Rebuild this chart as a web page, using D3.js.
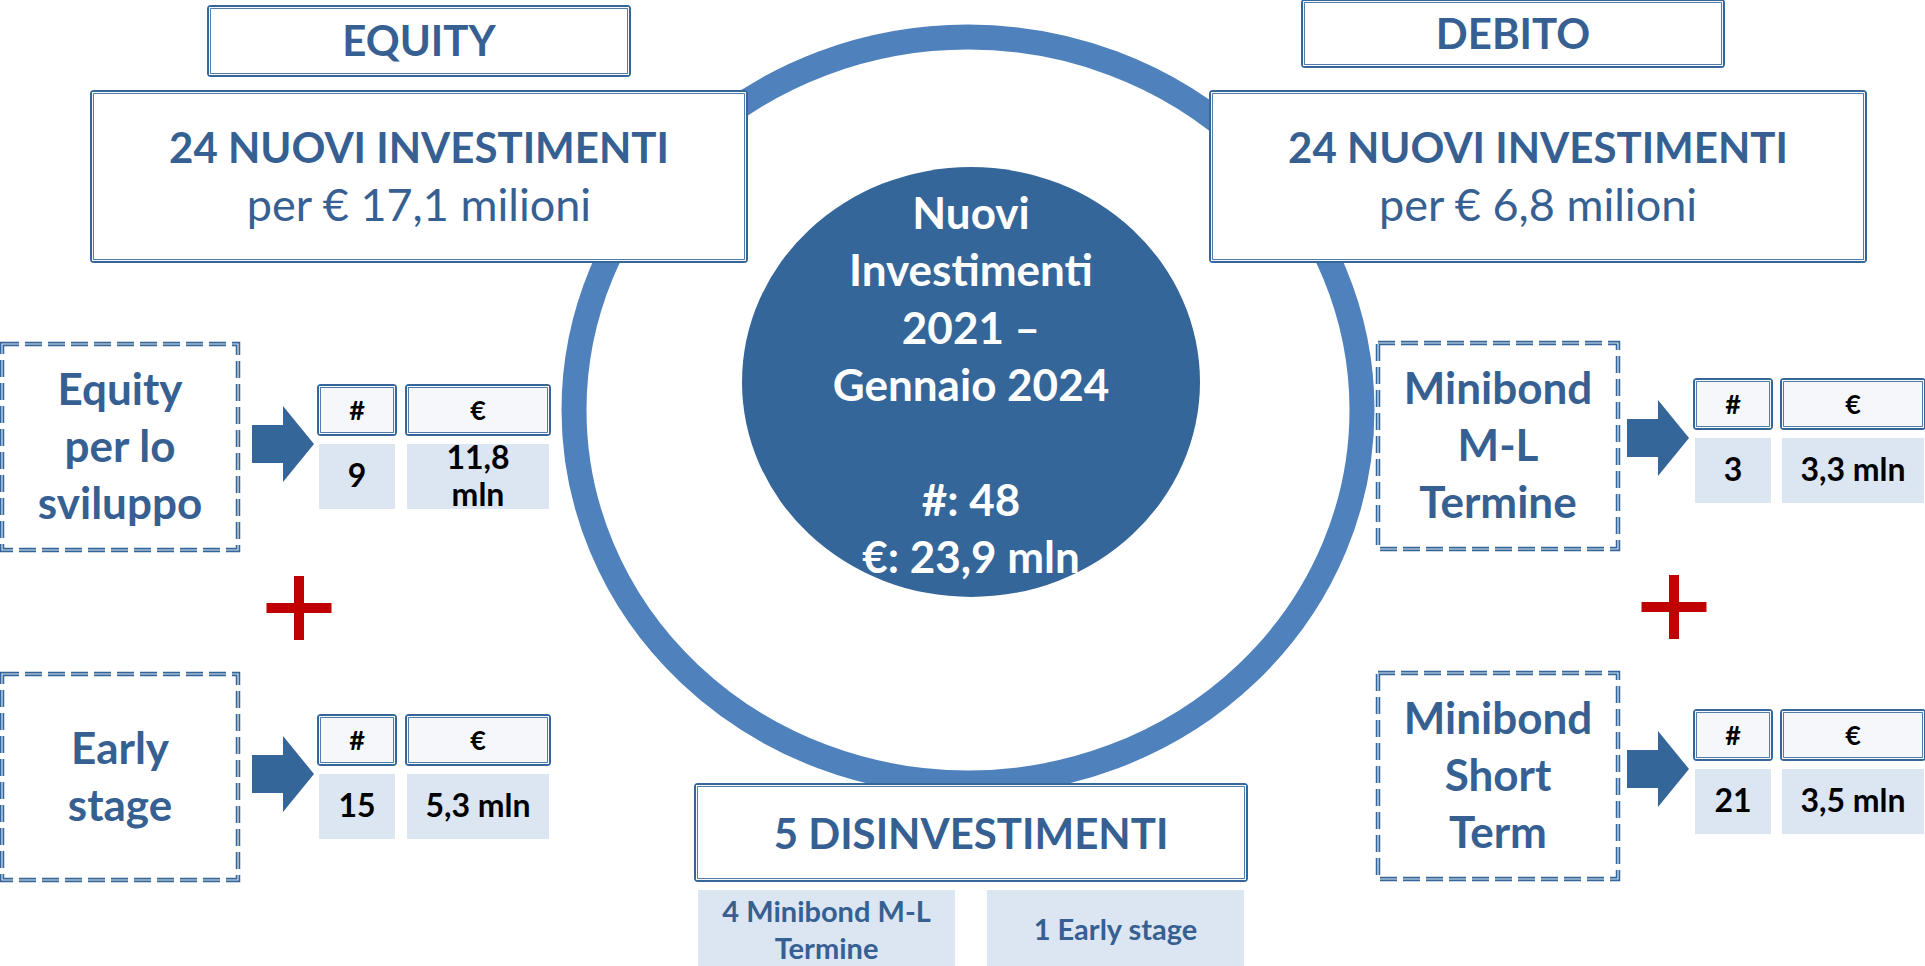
<!DOCTYPE html>
<html>
<head>
<meta charset="utf-8">
<script src="https://cdn.jsdelivr.net/npm/d3@7"></script>
<style>
  html, body { margin: 0; padding: 0; background: #fff; }
  svg { display: block; font-family: Lato, 'Open Sans', sans-serif; }
</style>
</head>
<body>
<script>
(function () {
  'use strict'
  const width = 1925
  const height = 966

  // data
  const sideTitles = ['EQUITY', 'DEBITO']
  const sideCounts = [24, 24]
  const sideAmounts = ['17,1', '6,8']
  const categoryLines = [
    ['Equity', 'per lo', 'sviluppo'],
    ['Early', 'stage'],
    ['Minibond', 'M-L', 'Termine'],
    ['Minibond', 'Short', 'Term']
  ]
  const categorySide = [0, 0, 1, 1]
  const categoryRow = [0, 1, 0, 1]
  const categoryCounts = ['9', '15', '3', '21']
  const categoryAmounts = [['11,8', 'mln'], ['5,3 mln'], ['3,3 mln'], ['3,5 mln']]
  const tableHeaders = ['#', '€']
  const centerLines = ['Nuovi', 'Investimenti', '2021 –', 'Gennaio 2024', '', '#: 48', '€: 23,9 mln']
  const disinvestTotal = 5
  const disinvestItems = [['4 Minibond M-L', 'Termine'], ['1 Early stage']]

  const dark = '#35669a'
  const textBlue = '#376092'
  const ringBlue = '#4f81bd'
  const cellFill = '#dce6f2'
  const headFill = '#f5f7fb'
  const red = '#c00000'

  // layout
  const side = {
    titleX: [209, 1303], titleY: [7, 1], titleW: 420, titleH: [68, 65],
    bigX: [92, 1211], bigY: 92, bigW: 654, bigH: 169,
    catX: [2, 1378], catW: [236, 240],
    arrowX: [252, 1627],
    colX: [[319, 407], [1695, 1782]], colW: [76, 142],
    tableTop: [[386, 716], [380, 711]],
    plus: [[299, 608], [1674, 607]]
  }
  const rowY = [[344, 674], [343, 673]]
  const rowH = 206

  const svg = d3.select('body').append('svg')
    .attr('width', width)
    .attr('height', height)

  // ring
  const ring = {cx: 968, cy: 410, rx: 394, ry: 373}
  svg.append('ellipse')
    .attr('cx', ring.cx).attr('cy', ring.cy)
    .attr('rx', ring.rx).attr('ry', ring.ry)
    .attr('fill', 'none')
    .attr('stroke', ringBlue)
    .attr('stroke-width', 25)

  function doubleBox (g, x, y, w, h, fill) {
    g.append('rect')
      .attr('x', x).attr('y', y).attr('width', w).attr('height', h)
      .attr('rx', 2)
      .attr('fill', fill)
      .attr('stroke', dark)
      .attr('stroke-width', 4)
    g.append('rect')
      .attr('x', x + 0.6).attr('y', y + 0.6).attr('width', w - 1.2).attr('height', h - 1.2)
      .attr('fill', 'none')
      .attr('stroke', '#fff')
      .attr('stroke-width', 1.1)
  }

  function dashedBox (g, x, y, w, h) {
    g.append('rect')
      .attr('x', x).attr('y', y).attr('width', w).attr('height', h)
      .attr('fill', '#fff')
      .attr('stroke', dark)
      .attr('stroke-width', 4.5)
      .attr('stroke-dasharray', '17,6')
    g.append('rect')
      .attr('x', x).attr('y', y).attr('width', w).attr('height', h)
      .attr('fill', 'none')
      .attr('stroke', '#dbe5f1')
      .attr('stroke-width', 1.2)
      .attr('stroke-dasharray', '17,6')
  }

  // title and summary boxes
  sideTitles.forEach(function (t, i) {
    const g = svg.append('g').attr('class', 'side')
    doubleBox(g, side.titleX[i], side.titleY[i], side.titleW, side.titleH[i], '#fff')
    g.append('text')
      .attr('x', side.titleX[i] + side.titleW / 2)
      .attr('y', side.titleY[i] + side.titleH[i] / 2 + 15)
      .attr('text-anchor', 'middle')
      .attr('font-size', 42)
      .attr('font-weight', 700)
      .attr('fill', textBlue)
      .text(t)

    doubleBox(g, side.bigX[i], side.bigY, side.bigW, side.bigH, '#fff')
    g.append('text')
      .attr('x', side.bigX[i] + side.bigW / 2)
      .attr('y', 163)
      .attr('text-anchor', 'middle')
      .attr('font-size', 42)
      .attr('font-weight', 700)
      .attr('fill', textBlue)
      .text(sideCounts[i] + ' NUOVI INVESTIMENTI')
    g.append('text')
      .attr('x', side.bigX[i] + side.bigW / 2)
      .attr('y', 221)
      .attr('text-anchor', 'middle')
      .attr('font-size', 45)
      .attr('font-weight', 400)
      .attr('fill', textBlue)
      .text('per € ' + sideAmounts[i] + ' milioni')
  })

  // categories
  categoryLines.forEach(function (lines, k) {
    const s = categorySide[k]
    const r = categoryRow[k]
    const g = svg.append('g').attr('class', 'category')
    const bx = side.catX[s]
    const by = rowY[s][r]
    dashedBox(g, bx, by, side.catW[s], rowH)
    const cy = by + rowH / 2
    g.append('text')
      .attr('text-anchor', 'middle')
      .attr('font-size', 44)
      .attr('font-weight', 700)
      .attr('fill', textBlue)
      .selectAll('tspan')
      .data(lines)
      .enter().append('tspan')
      .attr('x', bx + side.catW[s] / 2)
      .attr('y', (d, i) => cy + (i - (lines.length - 1) / 2) * 57 + 15)
      .text(d => d)

    // arrow
    const top = side.tableTop[s][r]
    const tipY = top + 58
    const ax = side.arrowX[s]
    g.append('path')
      .attr('d', `M${ax},${tipY - 19} H${ax + 31} V${tipY - 38} L${ax + 62},${tipY} L${ax + 31},${tipY + 38} V${tipY + 19} H${ax} Z`)
      .attr('fill', dark)

    // table
    tableHeaders.forEach(function (h, c) {
      const cx = side.colX[s][c]
      const cw = side.colW[c]
      doubleBox(g, cx, top, cw, 48, headFill)
      g.append('text')
        .attr('x', cx + cw / 2)
        .attr('y', top + 34)
        .attr('text-anchor', 'middle')
        .attr('font-size', 27)
        .attr('font-weight', 700)
        .attr('fill', '#000')
        .text(h)
      g.append('rect')
        .attr('x', cx).attr('y', top + 58)
        .attr('width', cw).attr('height', 65)
        .attr('fill', cellFill)
      const vals = c === 0 ? [categoryCounts[k]] : categoryAmounts[k]
      g.append('text')
        .attr('text-anchor', 'middle')
        .attr('font-size', 32)
        .attr('font-weight', 700)
        .attr('fill', '#000')
        .selectAll('tspan')
        .data(vals)
        .enter().append('tspan')
        .attr('x', cx + cw / 2)
        .attr('y', (d, i) => top + 58 + 43 + (i - (vals.length - 1) / 2) * 37)
        .text(d => d)
    })
  })

  // plus signs
  side.plus.forEach(function (p) {
    svg.append('rect')
      .attr('x', p[0] - 32.5).attr('y', p[1] - 5)
      .attr('width', 65).attr('height', 10)
      .attr('fill', red)
    svg.append('rect')
      .attr('x', p[0] - 5).attr('y', p[1] - 32)
      .attr('width', 10).attr('height', 64)
      .attr('fill', red)
  })

  // center
  const core = {cx: 971, cy: 382, rx: 229, ry: 215}
  svg.append('ellipse')
    .attr('cx', core.cx).attr('cy', core.cy)
    .attr('rx', core.rx).attr('ry', core.ry)
    .attr('fill', dark)
  svg.append('text')
    .attr('text-anchor', 'middle')
    .attr('font-size', 44)
    .attr('font-weight', 700)
    .attr('fill', '#fff')
    .selectAll('tspan')
    .data(centerLines)
    .enter().append('tspan')
    .attr('x', core.cx)
    .attr('y', (d, i) => 229 + i * 57.3)
    .text(d => d)

  // disinvestments
  const dg = svg.append('g').attr('class', 'disinvest')
  doubleBox(dg, 696, 785, 550, 95, '#fff')
  dg.append('text')
    .attr('x', 971).attr('y', 849)
    .attr('text-anchor', 'middle')
    .attr('font-size', 42)
    .attr('font-weight', 700)
    .attr('fill', textBlue)
    .text(disinvestTotal + ' DISINVESTIMENTI')

  const subX = d3.scaleBand().domain(d3.range(disinvestItems.length)).range([698, 1244]).paddingInner(0.11)
  disinvestItems.forEach(function (lines, i) {
    dg.append('rect')
      .attr('x', subX(i)).attr('y', 890)
      .attr('width', subX.bandwidth()).attr('height', 80)
      .attr('fill', cellFill)
    dg.append('text')
      .attr('text-anchor', 'middle')
      .attr('font-size', 29)
      .attr('font-weight', 700)
      .attr('fill', textBlue)
      .selectAll('tspan')
      .data(lines)
      .enter().append('tspan')
      .attr('x', subX(i) + subX.bandwidth() / 2)
      .attr('y', (d, j) => 940 + (j - (lines.length - 1) / 2) * 37)
      .text(d => d)
  })
})()
</script>
</body>
</html>
